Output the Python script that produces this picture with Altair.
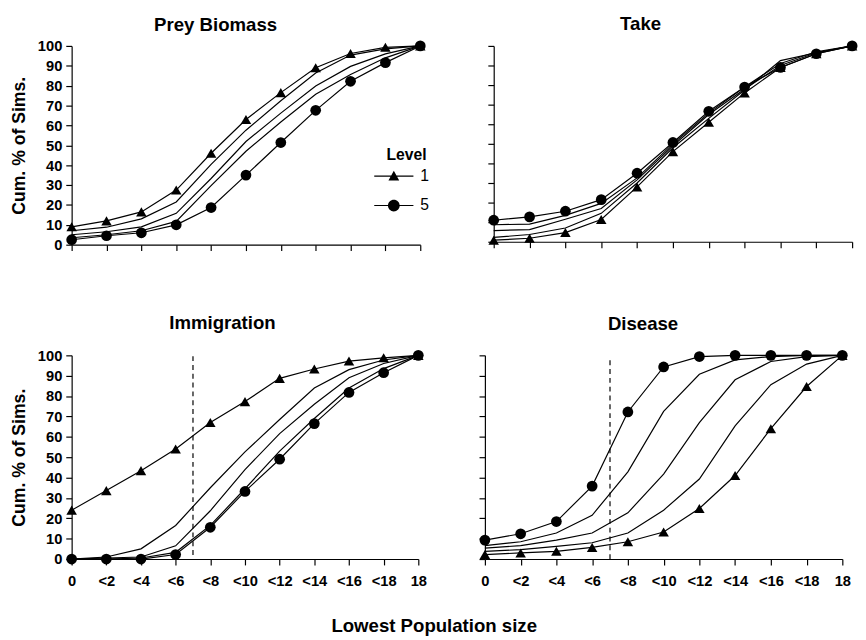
import altair as alt
import pandas as pd

FONT = "Liberation Sans"

x_labels = ["0", "<2", "<4", "<6", "<8", "<10", "<12", "<14", "<16", "<18", "18"]
levels = [1, 2, 3, 4, 5]
panel_names = ["Prey Biomass", "Take", "Immigration", "Disease"]

# cumulative % of simulations, one list per level (1..5)
prey_biomass = [
    [9, 12, 16.5, 27.5, 46, 63, 76.5, 89, 96.2, 99.3, 100],
    [7, 8.8, 13, 21.5, 40.4, 57.6, 72.4, 86.4, 95.4, 98.5, 100],
    [5, 6.5, 9, 15.8, 33.3, 51.9, 66.2, 79.8, 89.7, 96, 100],
    [3.5, 5, 7, 11.7, 29.7, 47, 61.7, 75.7, 85.6, 94, 100],
    [2.5, 4.5, 6, 10, 18.7, 35, 51.4, 67.6, 82.2, 91.6, 100],
]
take = [
    [0.8, 1.8, 4.7, 11.4, 28, 46, 61, 76, 89, 96, 100],
    [2.2, 3.7, 7, 14.5, 30, 48, 63, 77.5, 92.5, 96.5, 100],
    [5.7, 6.2, 11.5, 17, 31.6, 49, 65, 78, 90, 96.5, 100],
    [8.7, 9, 13.5, 19.6, 32.6, 50, 65.7, 79, 91, 97, 100],
    [11, 12.7, 15.6, 21.5, 35, 50.7, 66.6, 79, 89, 96, 100],
]
immigration = [
    [24, 33.6, 43.4, 54, 67, 77.3, 88.7, 93.3, 97.2, 98.8, 100],
    [0, 1, 5, 16.5, 35, 52.6, 68.5, 84, 93, 97.7, 100],
    [0, 0.5, 1, 6.5, 23.7, 43.9, 61.6, 76, 89, 96, 100],
    [0, 0, 0.5, 3.3, 16.5, 34.5, 53, 69, 84, 93.5, 100],
    [0, 0, 0, 2.2, 15.6, 33.2, 49, 66.5, 81.8, 91.5, 100],
]
disease = [
    [2.2, 3, 3.8, 5.7, 8.5, 13.3, 24.8, 41, 64, 84.7, 100],
    [3.8, 4.6, 6.2, 8, 12.8, 24, 39.3, 65.4, 85.6, 95.7, 100],
    [5.4, 6.6, 9.3, 12.8, 22.7, 41.7, 67, 88, 97, 99.4, 100],
    [6.6, 8.5, 12.8, 21.5, 42.8, 72.5, 90.7, 97.8, 99.4, 100, 100],
    [9.3, 12.4, 18.4, 35.8, 72.2, 94.3, 99.4, 100, 100, 100, 100],
]

dash_x = [3.5]
immigration_dash = [2, 100]
disease_dash = [0, 99]

legend_labels = ["1", "5"]
tri_path = "M-2,-0.06H2V0.06H-2Z M-0.55,0.45L0,-0.55L0.55,0.45Z"
circ_path = "M-2,-0.06H2V0.06H-2Z M0.6,0A0.6,0.6,0,1,1,-0.6,0A0.6,0.6,0,1,1,0.6,0Z"

rows = []
for name, series in zip(panel_names, [prey_biomass, take, immigration, disease]):
    for lev, vals in zip(levels, series):
        for i, v in enumerate(vals):
            rows.append({"panel": name, "level": lev, "xi": i, "value": v})
df = pd.DataFrame(rows)

label_expr = "[" + ",".join("'" + s + "'" for s in x_labels) + "][datum.value]"


def panel(name, w, h, show_x, show_y, title_offset, title_dx, dash=None, legend=False):
    d = df[df.panel == name]
    base = alt.Chart(d)
    xenc = alt.X(
        "xi:Q",
        scale=alt.Scale(domain=[0, 10], nice=False, zero=False),
        axis=alt.Axis(values=list(range(11)), labels=show_x, labelExpr=label_expr,
                      title=None, labelPadding=9, labelAngle=0, labelFlush=False,
                      labelOverlap=False, tickSize=6),
    )
    yenc = alt.Y(
        "value:Q",
        scale=alt.Scale(domain=[0, 100], nice=False),
        axis=alt.Axis(values=list(range(0, 101, 10)), labels=show_y,
                      title="Cum. % of Sims." if show_y else None,
                      titlePadding=9, labelPadding=4, labelFlush=False,
                      labelOverlap=False, tickSize=6),
    )
    lines = base.mark_line(color="black", strokeWidth=1.2).encode(
        x=xenc, y=yenc, detail="level:N")
    tris = base.transform_filter("datum.level == 1").mark_point(
        shape="triangle-up", filled=True, color="black", size=115, opacity=1).encode(x=xenc, y=yenc)
    circs = base.transform_filter("datum.level == 5").mark_point(
        shape="circle", filled=True, color="black", size=120, opacity=1).encode(x=xenc, y=yenc)
    layers = [lines, tris, circs]
    if dash is not None:
        dd = pd.DataFrame({"xi": dash_x, "value": [dash[0]], "value2": [dash[1]]})
        rule = alt.Chart(dd).mark_rule(color="#333333", strokeDash=[5, 4], strokeWidth=1.5).encode(
            x=xenc, y=yenc, y2=alt.Y2("value2:Q"))
        layers.insert(0, rule)
    if legend:
        leg = base.transform_filter("datum.level > 99").mark_point(
            filled=True, fill="black", stroke="black", strokeWidth=1.2, opacity=1).encode(
            x=xenc, y=yenc,
            shape=alt.Shape("Level:N",
                            scale=alt.Scale(domain=legend_labels, range=[tri_path, circ_path]),
                            legend=alt.Legend(title="Level", orient="none", legendX=319, legendY=104,
                                              symbolSize=400, symbolFillColor="black",
                                              symbolStrokeColor="black", symbolStrokeWidth=0,
                                              symbolOpacity=1, labelFont=FONT, labelFontSize=16,
                                              labelColor="black", labelOffset=17, rowPadding=12,
                                              titleFont=FONT, titleFontSize=16, titleFontWeight="bold",
                                              titleColor="black", titleAnchor="middle", titleAlign="center",
                                              titlePadding=3, padding=0)))
        layers.append(leg)
    return alt.layer(*layers).properties(
        width=w, height=h,
        title=alt.TitleParams(name, anchor="middle", offset=title_offset, dx=title_dx))


tl = panel("Prey Biomass", 356, 203, False, True, 4, -31, legend=True)
tr = panel("Take", 366, 200, False, False, 7, -33)
bl = panel("Immigration", 354, 208, True, True, 16, -23, dash=immigration_dash)
br = panel("Disease", 365, 208, True, False, 16, -21, dash=disease_dash)

top = alt.hconcat(tl, tr, spacing=59).resolve_scale(shape="independent").resolve_legend(shape="independent")
bottom = alt.hconcat(bl, br, spacing=52).resolve_scale(shape="independent").resolve_legend(shape="independent")

chart = alt.vconcat(top, bottom, spacing=63).resolve_scale(
    shape="independent").resolve_legend(shape="independent").properties(
    title=alt.TitleParams("Lowest Population size", orient="bottom", anchor="middle",
                          fontSize=19, offset=29),
    padding={"left": 2, "top": 0, "right": 0, "bottom": 0},
).configure_view(stroke=None).configure_axis(
    domainColor="black", tickColor="black", labelColor="black", titleColor="black",
    labelFont=FONT, titleFont=FONT, labelFontWeight="bold", titleFontWeight="bold",
    labelFontSize=15, titleFontSize=18, grid=False, domainWidth=1.2, tickWidth=1.2,
).configure_title(font=FONT, fontSize=19, fontWeight="bold", color="black")

chart.save("out.html", embed_options={"renderer": "svg", "actions": False})
